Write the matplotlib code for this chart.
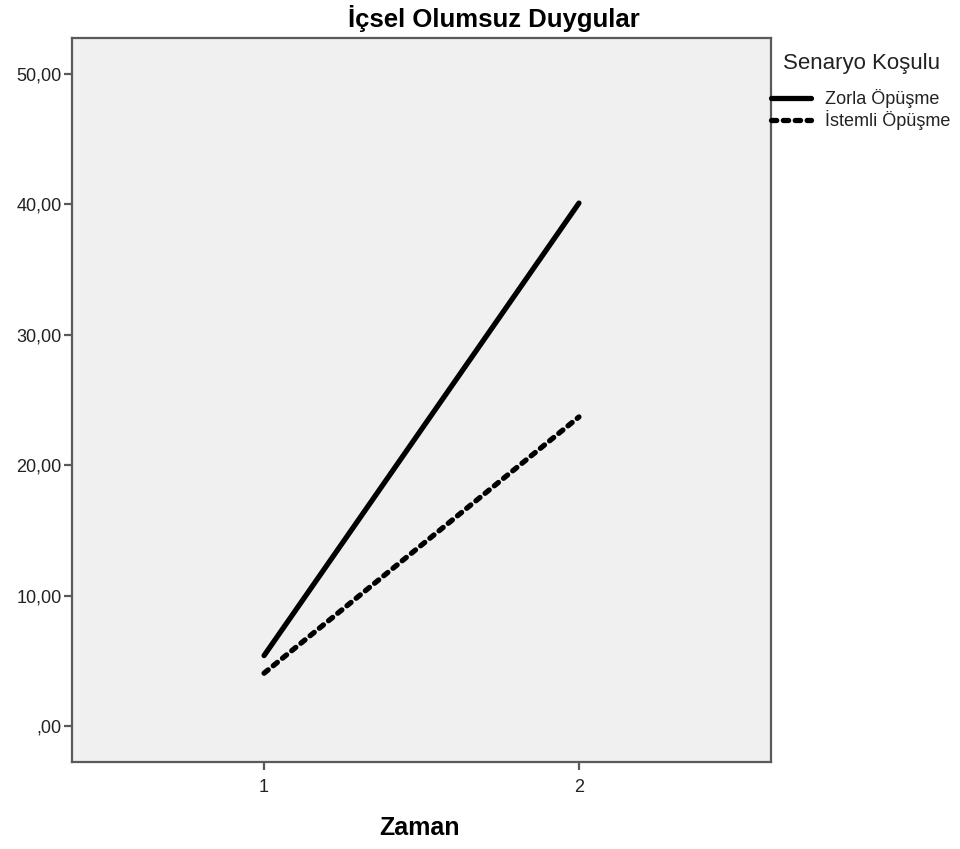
import matplotlib
matplotlib.use("Agg")
import matplotlib.pyplot as plt

plt.rcParams['font.family'] = ['Liberation Sans', 'DejaVu Sans']

# Data
zaman = [1, 2]
zorla = [5.4, 40.1]
istemli = [4.05, 23.7]
yticks = [0, 10, 20, 30, 40, 50]
ytick_labels = [',00', '10,00', '20,00', '30,00', '40,00', '50,00']

fig = plt.figure(figsize=(9.6, 8.49), dpi=100)
ax = fig.add_axes([72/960, 1 - 762/849, 699/960, 724/849])
ax.set_facecolor('#f0f0f0')

ax.plot(zaman, zorla, color='black', lw=3.8, solid_capstyle='round', label='Zorla Öpüşme')
ax.plot(zaman, istemli, color='black', lw=3.8, linestyle=(0, (1.0, 1.25)),
        dash_capstyle='round', label='İstemli Öpüşme')

ax.set_xlim(0.39, 2.61)
ax.set_ylim(-2.76, 52.76)
ax.set_xticks(zaman)
ax.set_xticklabels(['1', '2'])
ax.set_yticks(yticks)
ax.set_yticklabels(ytick_labels)

for s in ax.spines.values():
    s.set_color('#5a5a5a')
    s.set_linewidth(1.6)
ax.tick_params(direction='out', length=6, width=1.6, color='#5a5a5a',
               labelsize=13, labelcolor='#222222')
ax.tick_params(axis='y', pad=1.5)
ax.tick_params(axis='x', pad=6)

# title sits a bit right of the plot centre
fig.text(494/960, 1 - 19/849, 'İçsel Olumsuz Duygular', fontsize=18.5,
         fontweight='bold', ha='center', va='center')
fig.text(420/960, 1 - 828/849, 'Zaman', fontsize=18, fontweight='bold',
         ha='center', va='center')

leg = fig.legend(loc='upper left', bbox_to_anchor=(771/960, 1 - 89/849),
                 frameon=False, fontsize=13, handlelength=2.2,
                 handletextpad=0.8, labelspacing=0.12, borderaxespad=0,
                 borderpad=0)
for t in leg.get_texts():
    t.set_color('#222222')
fig.text(783/960, 1 - 63/849, 'Senaryo Koşulu', fontsize=16, va='center',
         color='#222222')

fig.savefig('out.png', dpi=100)
